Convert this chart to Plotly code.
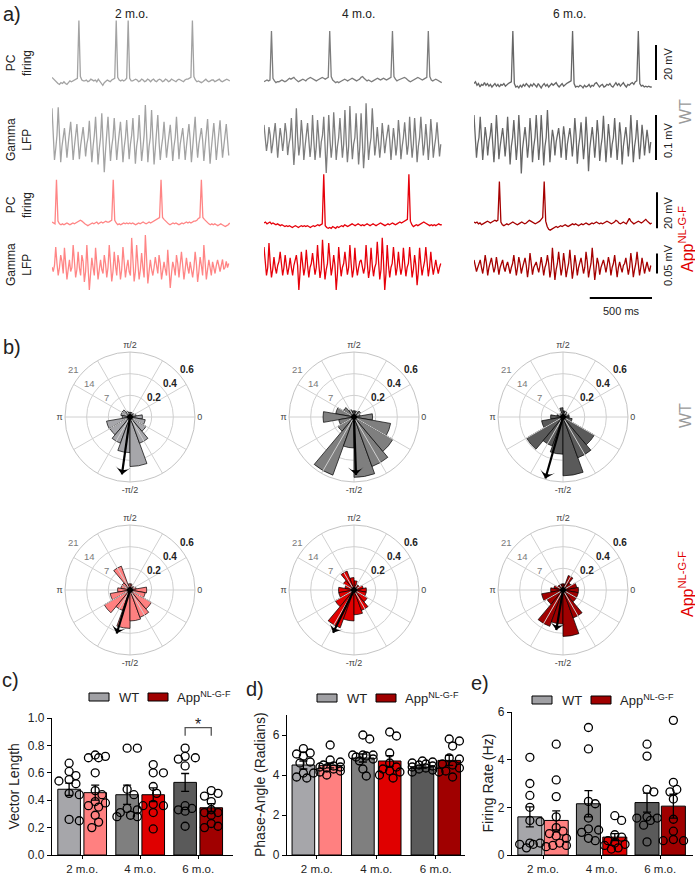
import math
import plotly.graph_objects as go

W, H = 695, 876
FONT = "Arial, 'Liberation Sans', sans-serif"

# ------------------------------------------------------------------ data
AGES = ["2 m.o.", "4 m.o.", "6 m.o."]
WT_BAR_COLORS = ["#a6a6aa", "#7f7f7f", "#5a5a5a"]
APP_BAR_COLORS = ["#ff8080", "#e00000", "#a00000"]
WT_TRACE_COLORS = ["#a3a3a3", "#7d7d7d", "#666666"]
APP_TRACE_COLORS = ["#ff8585", "#e6000a", "#a50000"]
LEGEND_WT = "#a0a0a4"
LEGEND_APP = "#a00000"

PC_DT = 12      # ms per sample (PC firing)
LFP_DT = 10     # ms per sample (gamma LFP)
WINDOW_MS = 1430
SCALE_MS = 500
SCALE_PC_MV = 20
SCALE_WT_LFP_UV = 100
SCALE_APP_LFP_UV = 50

# PC firing traces (mV, relative)
wt_pc_2mo = [1.5, 0.5, -0.5, -1.5, -2, -2.5, -1.5, -2, -1, -2, -2.5, -1.5, -0.5, -1, -0.5, 0, 0.5, 1,
             34,
             2, 0, -0.5, -0.5, 0, -1, -0.5, 0.5, 0, -0.5, 0, -1, 0.5, -0.5, -2, -3, -1.5, -0.5, 0, -0.5, -1, 0, 0.5, 1,
             34,
             1.5, 0, -0.5, 0, -0.5, 0, 1,
             34,
             1, -0.5, -0.5, 0, 0.5, 0, -1, -0.5, 0.5, 0, -1, -0.5, 0.5, 0, -1, 0, 0.5, -0.5, -1, 0, 0.5, 0, -1, -0.5,
             0.5, 0, -1, -0.5, 0.5, 0, -0.5, -1, 0, 0.5, 0, -0.5, -1, 0, 0.5, 0.5, 1, 1.5,
             34,
             2, 0, -1, -0.5, -1, -1.5, -1, 0, 0.5, -0.5, -1, -0.5, 0, 0, -1, -0.5, 0, 0.5, -0.5, -1, -0.5, 0, 0.5, 0, -0.5]
wt_pc_4mo = [-1, -0.5, 0, -0.5, 0,
             28,
             1, -0.5, -1.5, -1, -1, -0.5, 0, -0.5, -1, -0.5, 0.5, 1, 0.5, 1, 1.5, 0.5, -0.5, -1, -0.5, 0, 0.5, 0, -0.5,
             0.5, 1, 1.5, 1, 0.5, 0, -0.5, 0, 0.5, 1, 1.5, 1, 0.5, 1, 1.5,
             28,
             2, 0, -1, -1.5, -1, -1.5, -1, -0.5, 0, 0.5, 0, -0.5, 0, 0.5, 1, 0.5, 0, -0.5, 0, 0.5, 1.5, 2, 1, 0, -0.5,
             0, -0.5, -1, -0.5, 0, 0.5, 1, 0.5, 0, 0.5, 1, 0.5, 0, 0.5, 1, 1.5,
             28,
             2, 0.5, -0.5, 0, 0.5, 0.5, 1, 1.5, 1, 0, -0.5, -1, -0.5, 0, 0.5, 1, 1.5, 1, 0.5, 0, 0.5, 1, 1.5,
             28,
             2, 0, -0.5, 0, 0.5, 0, -0.5, -1, -1.5]
wt_pc_6mo = [-2, -1, -3, -2, -4, -2.5, -3, -1.5, -3, -2, -3.5, -2.5, -4, -3, -2, -3.5, -2.5, -4, -2.5, -3, -2, -3.5,
             -2.5, -2, -1.5, -1,
             28,
             -2, -4, -3.5, -4.5, -3, -4, -2.5, -3.5, -2, -3, -4, -2.5, -3.5, -2, -3, -4, -2, -3, -4.5, -3, -2, -3.5,
             -2.5, -4, -3, -2, -3, -2.5, -1.5, -3, -4, -3, -2, -3.5, -2.5, -2, -1.5, -1, -0.5,
             28,
             -2, -4, -3.5, -4, -3, -3.5, -4.5, -3, -4, -3.5, -2.5, -4, -3, -3.5, -2, -1.5, -3, -4, -3, -2.5, -4, -3.5,
             -2.5, -3, -2, -3.5, -4, -2.5, -1.5, -3, -2, -3.5, -2.5, -1.5, -3, -4, -2.5, -3, -2, -1.5, -2.5, -1, -0.5,
             28,
             -2, -3.5, -3, -4, -3.5, -4, -3.5, -4, -4]
app_pc_2mo = [0.5, 0, -0.5,
              24,
              1, -0.5, -1, -0.5, -1, -0.5, 0, -0.5, -1, -0.5, 0, -0.5, 0, 0.5, 1, 1.5, 1, 0, -0.5, -1, -1.5, -1, -0.5,
              0, -0.5, 0, 0.5, -0.5, 0, 0.5, 0, 0.5, 1, 0.5, 0.5, 1, 1.5,
              24,
              1.5, 0, -1, -0.5, -1, -0.5, 0, -0.5, 0, -0.5, 0, -0.5, 0, -0.5, -1, -0.5, 0, -0.5, 0, 0.5, 0, -0.5, 0,
              0.5, 0, 0.5, 1, 1.5, 2, 2.5, 3,
              24,
              3, 2, 1, 0, -0.5, -1, -0.5, 0, -0.5, 0, -0.5, -1, -0.5, 0, -0.5, 0, 0.5, 0, 0.5, 0, 0.5, 1, 1, 1.5, 2.5, 3,
              24,
              3, 2, 1, 0, -0.5, -1, -0.5, -1, -0.5, -1, -1.5, -1, -0.5, -1, -1.5, -2, -1.5, -1, 0]
app_pc_4mo = [0, 0.5, -0.5, 0, 0.5, -0.5, 0, -0.5, -1, -0.5, -1, -1.5, -1, -1.5, -2, -1.5, -2, -1.5, -2, -2.5, -2,
              -1.5, -2, -2.5, -2, -1.5, -2, -1.5, -2, -1.5, -2, -2.5, -2, -1.5, -2, -1.5, -1, -1.5, -1, -0.5,
              27,
              -1.5, -2.5, -3, -2.5, -3, -2, -2.5, -3, -2, -2.5, -2, -1.5, -2, -1, -1.5, -2, -1.5, -1, -0.5, -1, -1.5,
              -1, -0.5, -1, -1.5, -1, -1.5, -1, -0.5, -1, -1.5, -1, -0.5, -1, -1.5, -1, -0.5, 0, -0.5, -1, -1.5, -1,
              -0.5, -1, -0.5, 0, -0.5, -1, -0.5, 0, 0.5, 0, 0.5, 1, 1.5, 2,
              27,
              1, -1, -2, -1.5, -1, -1.5, -1, -0.5, 0, 0.5, 0, -0.5, -1, -1.5, -1, -1.5, -1, -1.5, -1, -0.5, -1, -1]
app_pc_6mo = [0.5, 0, 0.5, -0.5, 0, -1, -0.5, 0, 0.5, 1, 0.5, 0, 0.5, 1, 1.5, 1, 1.5,
              23,
              0.5, -1, -1.5, -1, -0.5, -1, -0.5, 0, 0.5, 0, -0.5, -1, -0.5, 0, 0.5, 0, -0.5, 0, 1, 1.5, 1, 0.5, 0,
              -0.5, 0, 0.5, 1, 2, 3,
              23,
              1, -2, -3.5, -4, -3.5, -3, -2.5, -2, -2.5, -2, -1.5, -2, -1.5, -1, -1.5, -2, -1.5, -1, -0.5, -1, -0.5,
              -1, -1.5, -1, -0.5, -1, -0.5, 0, -0.5, -1, -0.5, 0, -0.5, 0, 0.5, 0, -0.5, 0, -0.5, 0, 0.5, 1, 0.5, 0,
              -0.5, 0, 0.5, 1.5, 1, 0, -0.5, 0, 0.5, 0, -0.5, 1, 2.5, 1, 0, -0.5, 0, 0.5, 1, 0.5, 0, 0.5, 1.5, 2, 1,
              0, -0.5, 0]

# gamma LFP traces (microvolts)
wt_lfp_2mo = [65, -5, -50, -25, 5, 67, 0, -55, -20, 0, 21, -10, -45, -15, 5, 35, -5, -50, -20, 0,
              30, -10, -48, -18, 5, 23, -5, -42, -15, 0, 37, -10, -55, -20, 5, 46, -5, -60, -25, 0,
              54, -10, -77, -30, 5, 46, -5, -52, -20, 0, 43, -10, -50, -18, 5, 35, -5, -55, -22, 0,
              39, -8, -48, -15, 5, 43, -5, -58, -20, 0, 50, -10, -52, -25, 5, 72, 0, -55, -20, 0,
              61, -5, -60, -25, 5, 50, -10, -50, -20, 0, 35, -5, -45, -18, 5, 28, -8, -52, -20, 0,
              46, -5, -48, -15, 5, 21, -10, -50, -20, 0, 30, -5, -55, -22, 5, 46, -8, -45, -15, 0,
              21, -5, -52, -20, 5, 41, -10, -58, -25, 0, 32, -5, -50, -20, 5, 38, -5, -45, -20, 0,
              30, -5, -40]
wt_lfp_4mo = [28, -5, -30, -10, 23, 5, -35, -15, 5, 32, -5, -45, -10, 21, 0, -30, -5, 32, 10, -39, -15, 0,
              43, -5, -61, -20, 65, 0, -40, -15, 39, 5, -50, -20, 0, 32, -5, -43, -15, 50, -5, -50, -20,
              39, 0, -45, -10, 5, 46, -10, -79, -20, 50, -5, -45, -15, 56, 5, -50, -20, 0, 43, -5, -45, -15,
              61, -5, -55, -20, 70, 0, -48, -15, 0, 54, -5, -60, -20, 54, -5, -68, -25, 76, 5, -50, -20, 0,
              65, -5, -40, -15, 23, -10, -45, -15, 32, 0, -35, -10, 5, 28, -5, -50, -15, 21, -5, -40, -15,
              39, 5, -48, -20, 0, 34, -5, -38, -15, 46, -5, -45, -15, 43, 0, -55, -20, 0, 46, -5, -40, -15,
              30, -5, -50, -15, 41, 5, -45, -20, 0, 34, -5, -42, -15]
wt_lfp_6mo = [50, -5, -45, -15, 0, 46, -5, -50, -15, 23, 0, -40, -10, 5, 32, -5, -55, -15, 50, 5, -48, -20, 0,
              21, -5, -42, -10, 46, -5, -60, -20, 0, 39, -5, -50, -15, 50, 0, -80, -25, 0, 23, -5, -45, -15,
              43, 5, -55, -20, 0, 50, -5, -50, -15, 50, 0, -62, -20, 0, 61, -5, -55, -15, 17, 0, -40, -10, 5,
              21, -5, -45, -10, 25, 0, -50, -15, 0, 21, -5, -42, -10, 43, 5, -58, -20, 0, 34, -5, -48, -15,
              46, 0, -75, -25, 0, 23, -5, -45, -10, 39, 5, -52, -20, 0, 48, -5, -55, -15, 30, 0, -45, -15, 0,
              43, -5, -50, -15, 34, 5, -60, -20, 0, 23, -5, -42, -10, 50, 0, -55, -20, 0, 39, -5, -48, -15,
              28, 0, -40, -10, 17, -5, -35, -10]
app_lfp_2mo = [-9, -20, -5, 41, 0, -30, -10, 21, 5, -25, 39, -5, -40, -15, 9, -20, -10, 46, 0, -35, -15,
               29, -10, -30, 21, 5, -46, -20, 46, -5, -66, -25, 14, -10, -30, 39, 0, -40, -15, 9, -15, -25,
               21, 0, -35, -10, 46, 5, -45, -20, 29, -5, -30, 21, 0, -40, -15, 41, -5, -35, -10, 9, -20, -30,
               64, 10, -45, -20, 46, 0, -40, -15, 26, -10, -35, 71, 5, -50, -20, 9, -15, -30, -10, 16, -5, -25,
               21, 0, -40, -15, 4, -15, -30, 34, -5, -61, -25, 4, -10, -30, 21, 0, -35, -10, 29, -5, -40, -15,
               14, -10, -25, 4, -15, -35, -10, 29, 0, -46, -20, 16, -5, -30, 46, 5, -40, -15, 9, -10, -30,
               4, -15, -25, -5, 9, -5, -20, -5, 10, -15, -10, 5, -10, 0]
app_lfp_4mo = [41, -5, -30, -10, 51, 0, -35, -15, 16, -10, -25, -5, 5, 29, -5, -30, -10, 21, -5, -28, -10,
               14, -10, -30, -5, 5, 21, -5, -66, -20, 29, 0, -30, -10, 34, -5, -35, -10, 0, 26, -5, -28, -10,
               46, 0, -36, -15, 59, 5, -40, -15, 0, 51, -5, -30, -10, 21, -5, -66, -25, 41, 0, -32, -10, 0,
               29, -5, -28, -10, 46, 0, -35, -15, 39, -5, -30, -10, 5, 9, -10, -25, -10, 46, 0, -36, -15,
               39, -5, -32, -10, 0, 54, 0, -40, -15, 64, 5, -66, -25, 46, -5, -35, -10, 0, 41, 0, -30, -10,
               29, -5, -28, -10, 39, 0, -32, -10, 0, 41, -5, -35, -15, 21, -5, -54, -20, 39, 0, -30, -10, 5,
               41, -5, -32, -10, 29, -5, -28, -10, 9, -10, -25, -10, 0]
app_lfp_6mo = [9, -5, -20, -10, 0, 9, -10, -25, -5, 21, 0, -30, -10, 0, 14, -5, -22, -10, 16, -5, -28, -10, 0,
               9, -10, -20, -5, 4, -10, -25, -10, 0, 21, -5, -30, -10, 16, 0, -25, -10, 0, 14, -5, -34, -10,
               26, 0, -28, -10, 0, 4, -10, -22, -5, 16, -5, -30, -10, 0, 21, 0, -35, -15, 39, 5, -41, -15, 0,
               29, -5, -30, -10, 26, 0, -34, -15, 0, 34, -5, -38, -15, 21, 0, -30, -10, 0, 14, -5, -25, -10,
               29, 5, -35, -15, 0, 39, -5, -41, -15, 14, 0, -28, -10, 0, 9, -5, -22, -5, 16, 0, -30, -10, 0,
               21, -5, -34, -10, 4, -10, -22, -5, 0, 14, -5, -28, -10, 26, 0, -34, -15, 0, 29, -5, -30, -10,
               14, -5, -25, -10, 4, -10, -20, -5]

# rose plots (spike counts per 20 deg phase bin)
BIN_CENTERS_DEG = [0, 20, 40, 60, 80, 100, 120, 140, 160, 180, 200, 220, 240, 260, 280, 300, 320, 340]
BIN_WIDTH_DEG = 20
RINGS = [7, 14, 21]
VL_RINGS = [0.2, 0.4, 0.6]
CARDINAL_DEG = [0, 90, 180, 270]
CARDINAL_TEXT = ["0", "π/2", "π", "-π/2"]
SPOKES_DEG = [30, 60, 120, 150, 210, 240, 300, 330]
wt_rose_2mo = [4, 2, 1.5, 1.5, 1.5, 1.5, 2, 3, 3, 2.5, 7.7, 7.5, 9, 11.5, 16, 9, 6, 5]
wt_rose_4mo = [6, 2, 2.5, 2, 2, 2, 2.5, 4, 6, 10, 5, 6, 20, 10, 19.5, 17, 14.5, 12]
wt_rose_6mo = [2, 2, 1.5, 2, 2, 3, 1.5, 1, 2, 4, 7, 13.6, 10, 12, 19, 14, 11.7, 3]
app_rose_2mo = [5.4, 2, 1.5, 1.5, 2, 2, 8.2, 3, 3, 4, 6.5, 9.6, 7, 12.4, 10, 9.4, 8, 5]
app_rose_4mo = [4, 3, 2, 2, 3, 4, 6.5, 4, 3, 5, 5, 7, 13, 10, 8, 7, 5, 4]
app_rose_6mo = [5, 4.5, 3, 5, 2, 2, 2, 2, 3, 4, 7, 6, 12.5, 11, 15, 9.6, 5, 5]
wt_vector_len = [0.535, 0.535, 0.59]
wt_vector_deg = [262, 272, 254]
app_vector_len = [0.42, 0.44, 0.375]
app_vector_deg = [253, 244, 260.5]

# c) vector length
vl_wt_mean = [0.48, 0.44, 0.53]
vl_wt_sem = [0.045, 0.07, 0.065]
vl_app_mean = [0.455, 0.44, 0.345]
vl_app_sem = [0.055, 0.05, 0.03]
vl_wt_pts = [[0.67, 0.61, 0.58, 0.55, 0.54, 0.52, 0.45, 0.44, 0.26, 0.25],
             [0.78, 0.78, 0.48, 0.44, 0.34, 0.33, 0.31, 0.29, 0.28, 0.28],
             [0.78, 0.72, 0.71, 0.70, 0.65, 0.36, 0.34, 0.33, 0.32, 0.21]]
vl_app_pts = [[0.73, 0.72, 0.71, 0.71, 0.60, 0.47, 0.44, 0.39, 0.38, 0.36, 0.35, 0.29, 0.24, 0.20],
              [0.66, 0.60, 0.60, 0.50, 0.45, 0.37, 0.36, 0.36, 0.31, 0.19],
              [0.47, 0.45, 0.43, 0.39, 0.33, 0.31, 0.31, 0.29, 0.23, 0.21, 0.20]]

# d) phase angle
pa_wt_mean = [4.5, 4.85, 4.4]
pa_wt_sem = [0.2, 0.2, 0.06]
pa_app_mean = [4.48, 4.7, 4.73]
pa_app_sem = [0.12, 0.27, 0.25]
pa_wt_pts = [[5.32, 5.1, 5.05, 4.95, 4.65, 4.6, 4.1, 4.1, 3.9, 3.85],
             [6.0, 5.8, 5.0, 5.0, 5.0, 4.95, 4.9, 4.8, 4.7, 4.3, 3.95],
             [4.7, 4.65, 4.6, 4.55, 4.5, 4.45, 4.4, 4.35, 4.3, 4.25, 4.15]]
pa_app_pts = [[5.5, 4.75, 4.65, 4.5, 4.45, 4.4, 4.4, 4.35, 4.3, 4.2, 4.15, 4.0],
              [6.15, 5.95, 5.1, 4.6, 4.4, 4.3, 4.2, 4.15, 4.0, 3.85],
              [5.8, 5.7, 5.45, 4.85, 4.8, 4.55, 4.5, 4.35, 4.2, 4.15, 3.9]]

# e) firing rate
fr_wt_mean = [1.6, 2.15, 2.2]
fr_wt_sem = [0.42, 0.55, 0.4]
fr_app_mean = [1.45, 0.75, 2.05]
fr_app_sem = [0.4, 0.15, 0.5]
fr_wt_pts = [[4.1, 3.0, 2.5, 2.0, 1.45, 1.4, 0.5, 0.5, 0.45, 0.45, 0.3],
             [5.35, 4.45, 2.25, 2.15, 1.55, 1.1, 1.05, 0.95, 0.7, 0.6],
             [4.65, 4.15, 2.75, 2.65, 1.6, 1.55, 1.55, 1.45, 1.25, 0.55]]
fr_app_pts = [[4.65, 3.15, 2.45, 1.6, 1.15, 1.0, 0.9, 0.8, 0.7, 0.5, 0.4, 0.4, 0.35],
              [1.65, 1.45, 0.85, 0.75, 0.6, 0.5, 0.45, 0.4, 0.3, 0.25],
              [5.65, 3.05, 2.75, 2.65, 2.35, 1.5, 1.0, 0.65, 0.6, 0.6]]


# ------------------------------------------------------------------ helpers
def xdom(a, b):
    return [a / W, b / W]


def ydom(top, bot):
    return [1 - bot / H, 1 - top / H]


def px(x):
    return x / W


def py(y):
    return 1 - y / H


def axname(letter, i):
    return letter + ("" if i == 1 else str(i))


fig = go.Figure()
layout = dict(width=W, height=H, margin=dict(l=0, r=0, t=0, b=0), autosize=False,
              paper_bgcolor="white", plot_bgcolor="rgba(0,0,0,0)", showlegend=False,
              template="none", font=dict(family=FONT, color="#222"))
annotations = []
shapes = []


def add_text(x, y, text, size=12, color="#222", angle=0, xanchor="center", yanchor="middle", **kw):
    annotations.append(dict(x=px(x), y=py(y), xref="paper", yref="paper", text=text, showarrow=False,
                            font=dict(size=size, color=color, family=FONT), textangle=angle,
                            xanchor=xanchor, yanchor=yanchor, **kw))


# ------------------------------------------------------------------ panel a
COL_PX = [(52, 230), (264, 442), (474, 652)]
ROWS = [(15, 90, [-5.7, 37.1]),
        (100, 175, [-83.3, 83.3]),
        (170, 235, [-6.7, 29.4]),
        (230, 297, [-83.75, 83.75])]
for c, (a, b) in enumerate(COL_PX):
    layout[axname("xaxis", c + 1)] = dict(domain=xdom(a, b), range=[0, WINDOW_MS], visible=False)
for r, (top, bot, rng) in enumerate(ROWS):
    layout[axname("yaxis", r + 1)] = dict(domain=ydom(top, bot), range=rng, visible=False)

row_traces = [
    ([wt_pc_2mo, wt_pc_4mo, wt_pc_6mo], PC_DT, WT_TRACE_COLORS),
    ([wt_lfp_2mo, wt_lfp_4mo, wt_lfp_6mo], LFP_DT, WT_TRACE_COLORS),
    ([app_pc_2mo, app_pc_4mo, app_pc_6mo], PC_DT, APP_TRACE_COLORS),
    ([app_lfp_2mo, app_lfp_4mo, app_lfp_6mo], LFP_DT, APP_TRACE_COLORS),
]
for r, (series, dt, colors) in enumerate(row_traces):
    for c, vals in enumerate(series):
        fig.add_trace(go.Scatter(x=[i * dt for i in range(len(vals))], y=vals, mode="lines",
                                 line=dict(color=colors[c], width=1.3),
                                 xaxis=axname("x", c + 1), yaxis=axname("y", r + 1),
                                 hoverinfo="skip"))

# scale bars
shapes.append(dict(type="line", xref="x3", yref="paper", x0=WINDOW_MS - SCALE_MS, x1=WINDOW_MS,
                   y0=py(298), y1=py(298), line=dict(color="black", width=2)))
vbars = [("y", 0, SCALE_PC_MV, 656, "20 mV", 64),
         ("y2", -SCALE_WT_LFP_UV / 2, SCALE_WT_LFP_UV / 2, 656, "0.1 mV", 140),
         ("y3", -3, -3 + SCALE_PC_MV, 657, "20 mV", 213),
         ("y4", -SCALE_APP_LFP_UV / 2, SCALE_APP_LFP_UV / 2, 657, "0.05 mV", 265)]
for yref, y0, y1, xp, label, ly in vbars:
    shapes.append(dict(type="line", xref="paper", yref=yref, x0=px(xp), x1=px(xp), y0=y0, y1=y1,
                       line=dict(color="black", width=2)))
    add_text(668, ly, label, size=11, angle=-90)
add_text(621, 311, "500 ms", size=11)

add_text(1, 14, "a)", size=20, xanchor="left")
add_text(131, 14, AGES[0], size=12)
add_text(358, 14, AGES[1], size=12)
add_text(569, 14, AGES[2], size=12)
for ly, lab in [(63, "PC<br>firing"), (140, "Gamma<br>LFP"), (205, "PC<br>firing"), (265, "Gamma<br>LFP")]:
    add_text(19, ly, lab, size=12, angle=-90)
add_text(685, 112, "WT", size=16, color="#9a9a9a", angle=-90)
add_text(686, 239, "App<sup>NL-G-F</sup>", size=16, color="#e00000", angle=-90)

# ------------------------------------------------------------------ panel b
add_text(1, 347, "b)", size=20, xanchor="left")
POLAR_CX = [130, 354, 563]
POLAR_CY = [417, 590]
PR = 65
RING_PER_VL = RINGS[-1] / VL_RINGS[-1]
roses = [(wt_rose_2mo, wt_rose_4mo, wt_rose_6mo), (app_rose_2mo, app_rose_4mo, app_rose_6mo)]
vecs = [(wt_vector_len, wt_vector_deg), (app_vector_len, app_vector_deg)]
bar_cols = [WT_BAR_COLORS, APP_BAR_COLORS]
spoke_r, spoke_t = [], []
for a in SPOKES_DEG:
    spoke_r += [0, RINGS[-1], None]
    spoke_t += [a, a, None]
k = 0
for r in range(2):
    for c in range(3):
        k += 1
        name = "polar" if k == 1 else f"polar{k}"
        cx, cy = POLAR_CX[c], POLAR_CY[r]
        layout[name] = dict(
            domain=dict(x=xdom(cx - PR, cx + PR), y=ydom(cy - PR, cy + PR)),
            bgcolor="rgba(0,0,0,0)",
            radialaxis=dict(range=[0, RINGS[-1]], tickvals=RINGS, showticklabels=False, ticks="",
                            showline=False, gridcolor="#d0d0d0", gridwidth=1),
            angularaxis=dict(rotation=0, direction="counterclockwise", tickmode="array",
                             tickvals=CARDINAL_DEG, ticktext=CARDINAL_TEXT,
                             ticks="", gridcolor="#d0d0d0", linecolor="#c4c4c4", linewidth=1,
                             tickfont=dict(size=9, color="#444", family=FONT)))
        fig.add_trace(go.Scatterpolar(r=spoke_r, theta=spoke_t, mode="lines",
                                      line=dict(color="#d0d0d0", width=1), subplot=name, hoverinfo="skip"))
        fig.add_trace(go.Barpolar(r=roses[r][c], theta=BIN_CENTERS_DEG, width=[BIN_WIDTH_DEG] * len(BIN_CENTERS_DEG),
                                  marker=dict(color=bar_cols[r][c], line=dict(color="black", width=0.7)),
                                  subplot=name, hoverinfo="skip"))
        L = vecs[r][0][c] * RING_PER_VL
        th = vecs[r][1][c]
        fig.add_trace(go.Scatterpolar(r=[0, L], theta=[th, th], mode="lines",
                                      line=dict(color="black", width=2.2), subplot=name, hoverinfo="skip"))
        fig.add_trace(go.Scatterpolar(r=[L], theta=[th], mode="markers",
                                      marker=dict(symbol="arrow-wide", size=11, angle=90 - th, color="black"),
                                      subplot=name, hoverinfo="skip"))
        fig.add_trace(go.Scatterpolar(r=[0], theta=[0], mode="markers",
                                      marker=dict(symbol="circle", size=6, color="black"),
                                      subplot=name, hoverinfo="skip"))
        # radial tick labels (counts at 140 deg, vector-length scale at 40 deg)
        for v, vl in zip(RINGS, VL_RINGS):
            rr = (v + 3) / RINGS[-1] * PR
            add_text(cx + rr * math.cos(math.radians(140)), cy - rr * math.sin(math.radians(140)),
                     str(v), size=9.5, color="#7a7a7a")
            add_text(cx + rr * math.cos(math.radians(40)), cy - rr * math.sin(math.radians(40)),
                     f"<b>{vl:.1f}</b>", size=10, color="#222")
add_text(685, 416, "WT", size=16, color="#9a9a9a", angle=-90)
add_text(686, 584, "App<sup>NL-G-F</sup>", size=16, color="#e00000", angle=-90)


# ------------------------------------------------------------------ panels c, d, e
def swarm(vals, xs_px, ys_px, d=7.2, step=3.4):
    placed = []
    offs = [0.0] * len(vals)
    order = sorted(range(len(vals)), key=lambda i: -vals[i])
    for i in order:
        yv = vals[i] * ys_px
        best, best_cost = 0.0, None
        for kk in [0, 1, -1, 2, -2, 3, -3]:
            xo = kk * step
            cost = sum(max(0, d - ((xo - p) ** 2 + (yv - q) ** 2) ** 0.5) for p, q in placed)
            if cost == 0:
                best = xo
                best_cost = 0
                break
            if best_cost is None or cost < best_cost:
                best, best_cost = xo, cost
        placed.append((best, yv))
        offs[i] = best / xs_px
    return offs


def bar_panel(idx, xpx, ypx, xr, yr, dtick, tickfmt, wtm, wts, apm, aps, wtp, app, bw, title, title_x,
              letter, letter_xy, legend_x):
    xa, ya = f"xaxis{idx}", f"yaxis{idx + 1}"
    xr_, yr_ = f"x{idx}", f"y{idx + 1}"
    layout[xa] = dict(domain=xdom(*xpx), range=xr, anchor=yr_, showgrid=False, zeroline=False,
                      showline=True, linecolor="black", linewidth=1.2, ticks="outside", ticklen=3,
                      tickcolor="black", tickvals=[0, 1, 2], ticktext=AGES,
                      tickfont=dict(size=11.5, color="#222", family=FONT))
    layout[ya] = dict(domain=ydom(*ypx), range=yr, anchor=xr_, showgrid=False, zeroline=False,
                      showline=True, linecolor="black", linewidth=1.2, ticks="outside", ticklen=4,
                      tickcolor="black", dtick=dtick, tick0=0, tickformat=tickfmt,
                      tickfont=dict(size=12, color="#222", family=FONT))
    xs_px = (xpx[1] - xpx[0]) / (xr[1] - xr[0])
    ys_px = (ypx[1] - ypx[0]) / (yr[1] - yr[0])
    groups = [(wtm, wts, wtp, WT_BAR_COLORS, -1), (apm, aps, app, APP_BAR_COLORS, 1)]
    for means, sems, pts, cols, side in groups:
        xs = [g + side * 0.225 for g in range(3)]
        fig.add_trace(go.Bar(x=xs, y=means, width=bw, xaxis=xr_, yaxis=yr_,
                             marker=dict(color=cols, line=dict(color="black", width=1)),
                             error_y=dict(type="data", array=sems, color="black", thickness=1.3, width=4),
                             hoverinfo="skip"))
    for means, sems, pts, cols, side in groups:
        for g in range(3):
            offs = swarm(pts[g], xs_px, ys_px)
            fig.add_trace(go.Scatter(x=[g + side * 0.225 + o for o in offs], y=pts[g], mode="markers",
                                     xaxis=xr_, yaxis=yr_, cliponaxis=False,
                                     marker=dict(symbol="circle-open", size=8, color="black",
                                                 line=dict(width=1.3)),
                                     hoverinfo="skip"))
    add_text(title_x, (ypx[0] + ypx[1]) / 2, title, size=14, angle=-90)
    add_text(letter_xy[0], letter_xy[1], letter, size=20, xanchor="left")
    lx, ly = legend_x
    shapes.append(dict(type="rect", xref="paper", yref="paper", x0=px(lx), x1=px(lx + 20),
                       y0=py(ly + 4), y1=py(ly - 4), fillcolor=LEGEND_WT, line=dict(color="black", width=1)))
    add_text(lx + 28, ly, "WT", size=13, xanchor="left")
    shapes.append(dict(type="rect", xref="paper", yref="paper", x0=px(lx + 59), x1=px(lx + 79),
                       y0=py(ly + 4), y1=py(ly - 4), fillcolor=LEGEND_APP, line=dict(color="black", width=1)))
    add_text(lx + 86, ly, "App<sup>NL-G-F</sup>", size=13, xanchor="left")


bar_panel(4, (52, 233), (718, 855), [-0.52, 2.6], [0, 1.0], 0.2, ".1f",
          vl_wt_mean, vl_wt_sem, vl_app_mean, vl_app_sem, vl_wt_pts, vl_app_pts, 0.39,
          "Vector Length", 13, "c)", (0, 680), (89, 697))
bar_panel(5, (287, 465), (715, 855), [-0.5, 2.49], [0, 7], 2, "d",
          pa_wt_mean, pa_wt_sem, pa_app_mean, pa_app_sem, pa_wt_pts, pa_app_pts, 0.38,
          "Phase-Angle (Radians)", 260, "d)", (244, 689), (317, 698))
bar_panel(6, (512, 693), (712, 855), [-0.53, 2.56], [0, 6], 2, "d",
          fr_wt_mean, fr_wt_sem, fr_app_mean, fr_app_sem, fr_wt_pts, fr_app_pts, 0.41,
          "Firing Rate (Hz)", 487, "e)", (469, 683), (532, 700))

# significance bracket (6 m.o., vector length)
shapes.append(dict(type="path", xref="x4", yref="y5",
                   path=f"M {2 - 0.225},0.87 L {2 - 0.225},0.93 L {2 + 0.225},0.93 L {2 + 0.225},0.87",
                   line=dict(color="#555", width=1.3)))
annotations.append(dict(x=2, y=0.955, xref="x4", yref="y5", text="*", showarrow=False,
                        font=dict(size=16, color="#222", family=FONT)))

layout["annotations"] = annotations
layout["shapes"] = shapes
fig.update_layout(**layout)
fig.write_html("out.html", config={"displayModeBar": False},
               post_script="document.body.style.margin='0px';")
